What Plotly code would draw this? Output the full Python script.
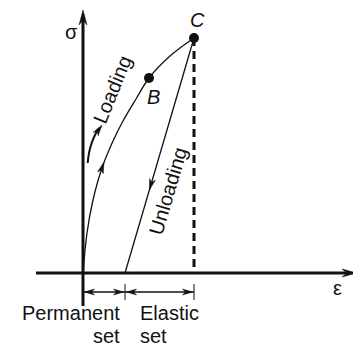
import numpy as np
import plotly.graph_objects as go

# Stress-strain sketch, values (arbitrary units, origin at the axes' crossing)
strain_loading = [0, 4, 10, 19, 30, 40, 53, 66, 87, 111]
stress_loading = [0, 40, 73, 105, 132, 152, 174, 195, 217, 235]
point_labels = ["B", "C"]
point_strain = [66, 111]
point_stress = [195, 235]
unload_strain = [111, 42]
unload_stress = [235, 0]
permanent_set = 42
# small curved "direction of loading" hint next to the curve
hint_strain = [4.7, 6, 8.7, 12, 16, 19]
hint_stress = [110, 120, 130, 138, 145, 148]

# the page body keeps its default 8px margin, so the figure is 8px smaller and ranges start later
X_RANGE = [-75, 278]
Y_RANGE = [-74, 265]
X_AXIS = [-47, 274]
Y_AXIS = [-33, 263]
DIM_Y = -19
INK = "#111111"
FONT = "Liberation Sans, Arial, sans-serif"


def dart(tip, direction, length=14, width=7, notch=4):
    """Barbed arrowhead polygon with its point at tip."""
    tx, ty = tip
    d = np.asarray(direction, float)
    ux, uy = d / np.hypot(*d)
    px, py = -uy, ux
    bx, by = tx - ux * length, ty - uy * length
    nx, ny = tx - ux * (length - notch), ty - uy * (length - notch)
    xs = [tx, bx + px * width / 2, nx, bx - px * width / 2, tx]
    ys = [ty, by + py * width / 2, ny, by - py * width / 2, ty]
    return xs, ys


fig = go.Figure()


def line(xs, ys, width=1.3, dash=None, shape="linear"):
    fig.add_trace(go.Scatter(x=xs, y=ys, mode="lines", hoverinfo="skip",
                             line=dict(color=INK, width=width, dash=dash, shape=shape)))


def head(tip, direction, **kw):
    xs, ys = dart(tip, direction, **kw)
    fig.add_trace(go.Scatter(x=xs, y=ys, mode="lines", fill="toself", fillcolor=INK,
                             hoverinfo="skip", line=dict(color=INK, width=0.5)))


# axes with arrows
line([X_AXIS[0], X_AXIS[1] - 10], [0, 0], width=3)
head((X_AXIS[1], 0), (1, 0), length=15, width=8, notch=5)
line([0, 0], [Y_AXIS[0], Y_AXIS[1] - 10], width=3)
head((0, Y_AXIS[1]), (0, 1), length=15, width=8, notch=5)

# loading curve and unloading line
line(strain_loading, stress_loading, shape="spline")
line(unload_strain, unload_stress)
line([point_strain[1], point_strain[1]], [point_stress[1], 0], width=3, dash="8px,5px")

# direction arrows on the paths
i = 3
d = (strain_loading[i + 1] - strain_loading[i - 1], stress_loading[i + 1] - stress_loading[i - 1])
u = np.array(d) / np.hypot(*d)
head(tuple(np.array([strain_loading[i], stress_loading[i]]) + 6 * u), d, length=11, width=6, notch=3)

f = 0.647
tip = (unload_strain[0] + f * (unload_strain[1] - unload_strain[0]),
       unload_stress[0] + f * (unload_stress[1] - unload_stress[0]))
head(tip, (unload_strain[1] - unload_strain[0], unload_stress[1] - unload_stress[0]),
     length=11, width=6, notch=3)

line(hint_strain[:-1], hint_stress[:-1], width=2, shape="spline")
head((hint_strain[-1], hint_stress[-1]),
     (hint_strain[-1] - hint_strain[-3], hint_stress[-1] - hint_stress[-3]), length=11, width=6, notch=3)

# points B and C
fig.add_trace(go.Scatter(x=point_strain, y=point_stress, mode="markers", hoverinfo="skip",
                         marker=dict(color=INK, size=10)))

# dimension lines for permanent / elastic set
line([0, permanent_set], [DIM_Y, DIM_Y], width=1.5)
line([permanent_set, point_strain[1]], [DIM_Y, DIM_Y], width=1.5)
for x0, x1 in [(0, permanent_set), (permanent_set, point_strain[1])]:
    head((x0 + 1.5, DIM_Y), (-1, 0), length=10, width=6, notch=3)
    head((x1 - 1.5, DIM_Y), (1, 0), length=10, width=6, notch=3)
for xt in [permanent_set, point_strain[1]]:
    line([xt, xt], [DIM_Y + 8, DIM_Y - 8], width=1)

# text
def label(x, y, text, angle=0, italic=False, xanchor="center", size=20):
    fig.add_annotation(x=x, y=y, text=f"<i>{text}</i>" if italic else text, showarrow=False,
                       textangle=angle, xanchor=xanchor, yanchor="middle", borderpad=0,
                       font=dict(family=FONT, size=size, color=INK))


label(-12, 241, "σ")
label(254, -15, "ε")
label(point_strain[0] + 4, point_stress[0] - 19, point_labels[0], italic=True)
label(point_strain[1] + 3, point_stress[1] + 18, point_labels[1], italic=True)
label(29, 183, "Loading", angle=-68)
label(85, 82, "Unloading", angle=-73.6)
label(38, -39.5, "Permanent", xanchor="right")
label(38, -62.5, "set", xanchor="right")
label(56, -39.5, "Elastic", xanchor="left")
label(56, -62.5, "set", xanchor="left")

fig.update_layout(
    width=353, height=339, margin=dict(l=0, r=0, t=0, b=0),
    paper_bgcolor="white", plot_bgcolor="white", showlegend=False,
    xaxis=dict(range=X_RANGE, visible=False),
    yaxis=dict(range=Y_RANGE, visible=False),
)
fig.write_html("out.html")
